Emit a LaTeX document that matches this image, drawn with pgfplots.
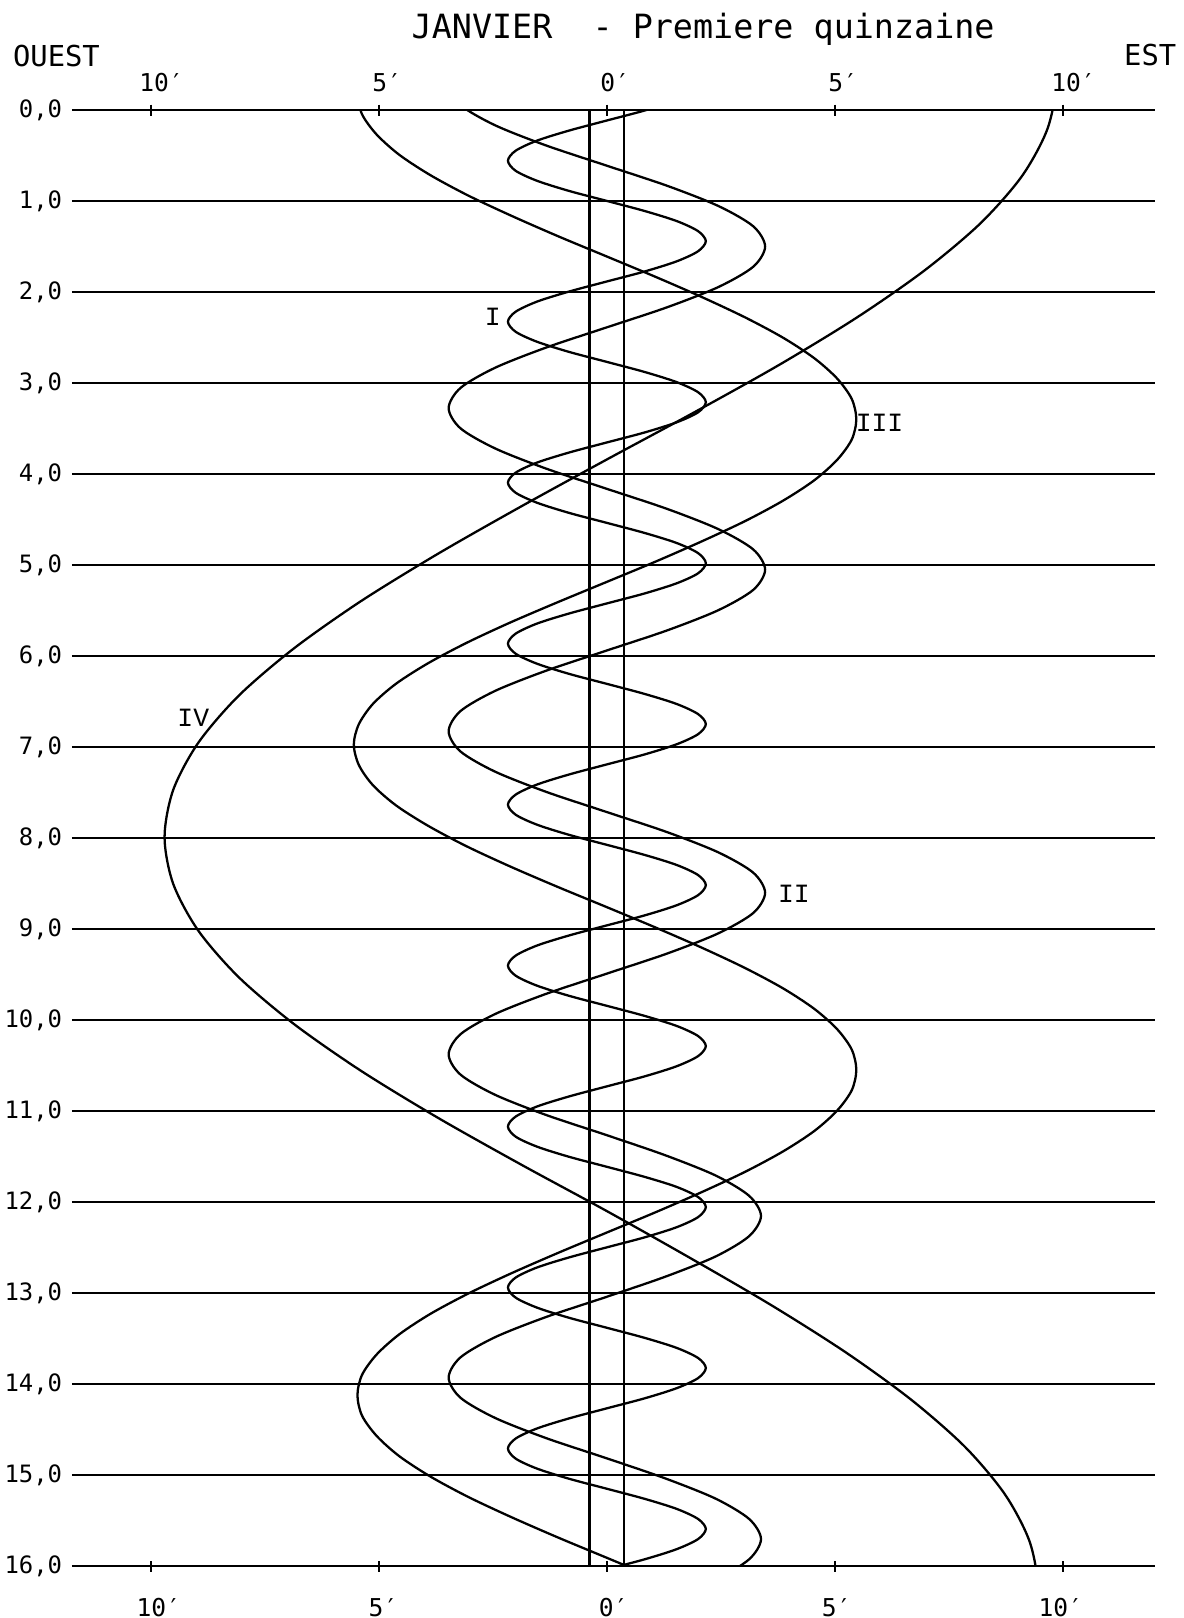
\documentclass[border=0pt]{standalone}
\usepackage{fontspec}
\usepackage{pgfplots}
\pgfplotsset{compat=1.18}
\setmainfont{DejaVu Sans Mono}
\newfontfamily\plotfont{DejaVu Sans Mono}
\newfontfamily\romfont{Liberation Mono}

\tikzset{
  tl/.style={font=\plotfont\fontsize{7}{8}\selectfont, anchor=base west, inner sep=0},
  lab/.style={font=\romfont\fontsize{7.5}{8}\selectfont, inner sep=0},
}

% satellite positions: x = arcminutes (west < 0 < east), y = day
\begin{document}
\begin{tikzpicture}
\begin{axis}[
  at={(0,0)}, anchor=south west,
  scale only axis, width=108.3mm, height=145.6mm,
  xmin=-11.73, xmax=12.02, ymin=0, ymax=16, y dir=reverse,
  axis line style={draw=none},
  xtick={-10,-5,0,5,10}, xticklabels={}, xtick pos=both,
  tick align=center, major tick length=1.1mm,
  xtick style={black, line width=0.7pt},
  ytick={0,...,16}, ytick style={draw=none},
  yticklabel={\pgfmathparse{int(round(\tick))}\pgfmathresult,0},
  yticklabel style={font=\plotfont\fontsize{6.8}{8}\selectfont, black, xshift=0.8mm},
  ymajorgrids, grid style={black, line width=0.75pt},
  clip mode=individual,
  curve/.style={black, line width=0.65pt, smooth, no marks},
]
% disc of Jupiter
\addplot[black, line width=0.65pt, no marks] coordinates {(-0.38,0) (-0.38,16)};
\addplot[black, line width=0.65pt, no marks] coordinates {(0.37,0) (0.37,16)};

% I
\addplot[curve] coordinates {
(2.00,-0.217)
(1.53,-0.106) (0.83,0.005) (0,0.115) (-0.83,0.226) (-1.53,0.336) (-2.00,0.447) (-2.17,0.557) (-2.00,0.668)
(-1.53,0.778) (-0.83,0.889) (0,0.999) (0.83,1.110) (1.53,1.220) (2.00,1.331) (2.17,1.441) (2.00,1.552)
(1.53,1.663) (0.83,1.774) (0,1.884) (-0.83,1.995) (-1.53,2.105) (-2.00,2.216) (-2.17,2.326) (-2.00,2.437)
(-1.53,2.547) (-0.83,2.658) (0,2.768) (0.83,2.879) (1.53,2.990) (2.00,3.101) (2.17,3.211) (2.00,3.322)
(1.53,3.432) (0.83,3.543) (0,3.653) (-0.83,3.764) (-1.53,3.874) (-2.00,3.985) (-2.17,4.095) (-2.00,4.206)
(-1.53,4.316) (-0.83,4.427) (0,4.537) (0.83,4.648) (1.53,4.758) (2.00,4.869) (2.17,4.980) (2.00,5.091)
(1.53,5.201) (0.83,5.312) (0,5.422) (-0.83,5.533) (-1.53,5.643) (-2.00,5.754) (-2.17,5.864) (-2.00,5.975)
(-1.53,6.085) (-0.83,6.196) (0,6.306) (0.83,6.417) (1.53,6.527) (2.00,6.638) (2.17,6.748) (2.00,6.859)
(1.53,6.970) (0.83,7.081) (0,7.191) (-0.83,7.302) (-1.53,7.412) (-2.00,7.523) (-2.17,7.633) (-2.00,7.744)
(-1.53,7.854) (-0.83,7.965) (0,8.075) (0.83,8.186) (1.53,8.296) (2.00,8.407) (2.17,8.517) (2.00,8.628)
(1.53,8.739) (0.83,8.850) (0,8.960) (-0.83,9.071) (-1.53,9.181) (-2.00,9.292) (-2.17,9.402) (-2.00,9.513)
(-1.53,9.623) (-0.83,9.734) (0,9.844) (0.83,9.955) (1.53,10.065) (2.00,10.176) (2.17,10.286) (2.00,10.397)
(1.53,10.508) (0.83,10.619) (0,10.729) (-0.83,10.840) (-1.53,10.950) (-2.00,11.061) (-2.17,11.171) (-2.00,11.282)
(-1.53,11.392) (-0.83,11.503) (0,11.613) (0.83,11.724) (1.53,11.834) (2.00,11.945) (2.17,12.055) (2.00,12.166)
(1.53,12.277) (0.83,12.388) (0,12.498) (-0.83,12.609) (-1.53,12.719) (-2.00,12.830) (-2.17,12.940) (-2.00,13.051)
(-1.53,13.161) (-0.83,13.272) (0,13.382) (0.83,13.493) (1.53,13.603) (2.00,13.714) (2.17,13.824) (2.00,13.935)
(1.53,14.046) (0.83,14.157) (0,14.267) (-0.83,14.378) (-1.53,14.488) (-2.00,14.599) (-2.17,14.709) (-2.00,14.820)
(-1.53,14.930) (-0.83,15.041) (0,15.151) (0.83,15.262) (1.53,15.372) (2.00,15.483) (2.17,15.593) (2.00,15.704)
(1.53,15.815) (0.83,15.926) (0,16.036) (-0.83,16.147) (-1.53,16.257)};

% II
\addplot[curve] coordinates {
(-3.21,-0.498)
(-3.47,-0.276) (-3.21,-0.054) (-2.45,0.168) (-1.33,0.390) (0,0.612) (1.33,0.834) (2.45,1.056) (3.21,1.278)
(3.47,1.500) (3.21,1.722) (2.45,1.944) (1.33,2.166) (0,2.388) (-1.33,2.610) (-2.45,2.832) (-3.21,3.054)
(-3.47,3.276) (-3.21,3.498) (-2.45,3.719) (-1.33,3.941) (0,4.163) (1.33,4.385) (2.45,4.607) (3.21,4.829)
(3.47,5.051) (3.21,5.273) (2.45,5.495) (1.33,5.717) (0,5.939) (-1.33,6.161) (-2.45,6.383) (-3.21,6.605)
(-3.47,6.827) (-3.21,7.049) (-2.45,7.271) (-1.33,7.493) (0,7.715) (1.33,7.937) (2.45,8.159) (3.21,8.381)
(3.47,8.602) (3.21,8.824) (2.45,9.046) (1.33,9.268) (0,9.490) (-1.33,9.712) (-2.45,9.934) (-3.21,10.156)
(-3.47,10.378) (-3.21,10.600) (-2.45,10.822) (-1.33,11.044) (0,11.266) (1.29,11.488) (2.39,11.710) (3.12,11.932)
(3.38,12.153) (3.12,12.375) (2.39,12.597) (1.29,12.819) (0,13.041) (-1.33,13.263) (-2.45,13.485) (-3.21,13.707)
(-3.47,13.929) (-3.21,14.151) (-2.45,14.373) (-1.33,14.595) (0,14.817) (1.29,15.039) (2.39,15.261) (3.12,15.483)
(3.38,15.704) (3.12,15.926) (2.39,16.148) (1.29,16.370)};

% III
\addplot[curve] coordinates {
(-5.05,-0.625) (-5.37,-0.402) (-5.47,-0.178) (-5.37,0.046) (-5.05,0.269) (-4.55,0.493) (-3.87,0.716) (-3.04,0.940)
(-2.09,1.163) (-1.07,1.387) (0,1.610) (1.07,1.834) (2.09,2.057) (3.04,2.281) (3.87,2.504) (4.55,2.728)
(5.05,2.951) (5.37,3.175) (5.47,3.398) (5.37,3.621) (5.05,3.844) (4.55,4.068) (3.87,4.291) (3.04,4.515)
(2.09,4.738) (1.07,4.962) (0,5.185) (-1.08,5.409) (-2.12,5.632) (-3.08,5.856) (-3.92,6.079) (-4.62,6.303)
(-5.13,6.526) (-5.44,6.750) (-5.55,6.973) (-5.44,7.197) (-5.13,7.420) (-4.62,7.643) (-3.92,7.866) (-3.08,8.090)
(-2.12,8.313) (-1.08,8.537) (0,8.760) (1.07,8.984) (2.09,9.207) (3.04,9.431) (3.87,9.654) (4.55,9.878)
(5.05,10.101) (5.37,10.325) (5.47,10.548) (5.37,10.772) (5.05,10.995) (4.55,11.219) (3.87,11.442) (3.04,11.666)
(2.09,11.889) (1.07,12.112) (0,12.335) (-1.07,12.559) (-2.09,12.782) (-3.04,13.006) (-3.87,13.229) (-4.55,13.453)
(-5.05,13.676) (-5.37,13.900) (-5.47,14.123) (-5.37,14.347) (-5.05,14.570) (-4.55,14.794) (-3.87,15.017) (-3.04,15.241)
(-2.09,15.464) (-1.07,15.687) (0,15.910) (1.07,16.134) (2.09,16.357) (3.04,16.581)};

% IV
\addplot[curve] coordinates {
(9.10,-1.348) (9.66,-0.829) (9.85,-0.310) (9.66,0.209) (9.10,0.728) (8.19,1.246) (6.96,1.765) (5.47,2.284)
(3.77,2.803) (1.92,3.321) (0,3.840) (-1.89,4.359) (-3.71,4.878) (-5.39,5.396) (-6.86,5.915) (-8.07,6.434)
(-8.96,6.953) (-9.51,7.471) (-9.70,7.990) (-9.51,8.504) (-8.96,9.018) (-8.07,9.531) (-6.86,10.045) (-5.39,10.559)
(-3.71,11.073) (-1.89,11.586) (0,12.100) (1.84,12.619) (3.62,13.138) (5.25,13.656) (6.68,14.175) (7.86,14.694)
(8.73,15.213) (9.27,15.731) (9.45,16.250) (9.27,16.769)};

\node[lab] at (axis cs:-2.50,2.27) {I};
\node[lab] at (axis cs:4.10,8.61) {II};
\node[lab] at (axis cs:5.98,3.44) {III};
\node[lab] at (axis cs:-9.07,6.68) {IV};

\node[tl, yshift=1.9mm] at (axis cs:-10.27,0) {10′};
\node[tl, yshift=1.9mm] at (axis cs:-5.16,0) {5′};
\node[tl, yshift=1.9mm] at (axis cs:-0.16,0) {0′};
\node[tl, yshift=1.9mm] at (axis cs:4.84,0) {5′};
\node[tl, yshift=1.9mm] at (axis cs:9.73,0) {10′};
\node[tl, yshift=-5.0mm] at (axis cs:-10.33,16) {10′};
\node[tl, yshift=-5.0mm] at (axis cs:-5.24,16) {5′};
\node[tl, yshift=-5.0mm] at (axis cs:-0.19,16) {0′};
\node[tl, yshift=-5.0mm] at (axis cs:4.70,16) {5′};
\node[tl, yshift=-5.0mm] at (axis cs:9.45,16) {10′};
\end{axis}

\node[anchor=base west, inner sep=0, font=\plotfont\fontsize{9.5}{11}\selectfont]
  at (33.9mm,152.7mm) {JANVIER\ \ - Premiere quinzaine};
\node[anchor=base west, inner sep=0, font=\plotfont\fontsize{8.2}{10}\selectfont]
  at (-5.96mm,149.9mm) {OUEST};
\node[anchor=base east, inner sep=0, font=\plotfont\fontsize{8.2}{10}\selectfont]
  at (110.5mm,150.0mm) {EST};

\pgfresetboundingbox
\useasboundingbox (-7.2mm,-5.2mm) rectangle (111.2mm,156.6mm);
\end{tikzpicture}
\end{document}
